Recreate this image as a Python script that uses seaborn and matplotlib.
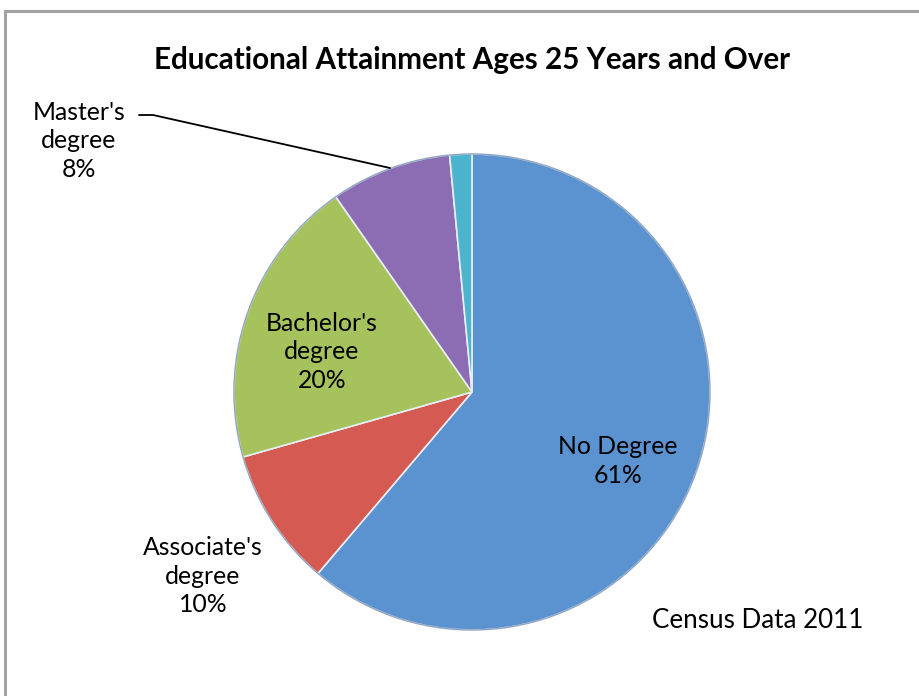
import matplotlib
matplotlib.use("Agg")
import matplotlib.pyplot as plt
import seaborn as sns
from matplotlib.patches import Rectangle

# slice data (clockwise from 12 o'clock)
categories = ["No Degree", "Associate's\ndegree", "Bachelor's\ndegree", "Master's\ndegree", "Doctorate"]
shares = [61.2, 9.4, 19.7, 8.2, 1.5]
pct_labels = ["61%", "10%", "20%", "8%", ""]
slice_colors = ["#5b93d1", "#d45a52", "#a6c25c", "#8c6db3", "#4cb4cf"]

sns.set_theme(style="white")
plt.rcParams["font.family"] = ["Lato", "DejaVu Sans"]
plt.rcParams["text.color"] = "black"

fig = plt.figure(figsize=(9.2, 6.96), dpi=100)
ax = fig.add_axes([0, 0, 1, 1])

# outer chart frame
fig.patches.append(Rectangle((5 / 920, -0.05), 1.1, (696 - 11) / 696 + 0.05,
                             transform=fig.transFigure, fill=False,
                             edgecolor="#a3a3a3", linewidth=2.2))

cx, cy, r = 472, 696 - 392, 238
wedges, _ = ax.pie(shares, colors=slice_colors, startangle=90, counterclock=False,
                   center=(cx, cy), radius=r, frame=True,
                   wedgeprops=dict(edgecolor="#e8eef6", linewidth=1.2))
ax.set_xlim(0, 920)
ax.set_ylim(0, 696)
ax.set_aspect("equal")
ax.axis("off")

# darker rim for a bevelled look
ax.add_patch(plt.Circle((cx, cy), r, fill=False, edgecolor="#3d5f8a", linewidth=1.0, alpha=0.5))

ax.text(472, 696 - 60, "Educational Attainment Ages 25 Years and Over",
        ha="center", va="center", fontsize=21.3, fontweight="bold")

lab_kw = dict(ha="center", va="center", fontsize=17.8, linespacing=1.3)
ax.text(618, 696 - 461, categories[0] + "\n" + pct_labels[0], **lab_kw)
ax.text(203, 696 - 576, categories[1] + "\n" + pct_labels[1], **lab_kw)
ax.text(322, 696 - 352, categories[2] + "\n" + pct_labels[2], **lab_kw)
ax.text(79, 696 - 141, categories[3] + "\n" + pct_labels[3], **lab_kw)

# leader line for Master's label
ax.plot([139, 153, 390], [696 - 115, 696 - 115, 696 - 168], color="black", linewidth=1.3)

ax.text(758, 696 - 621, "Census Data 2011", ha="center", va="center", fontsize=18.7)

fig.savefig("out.png", dpi=100)
